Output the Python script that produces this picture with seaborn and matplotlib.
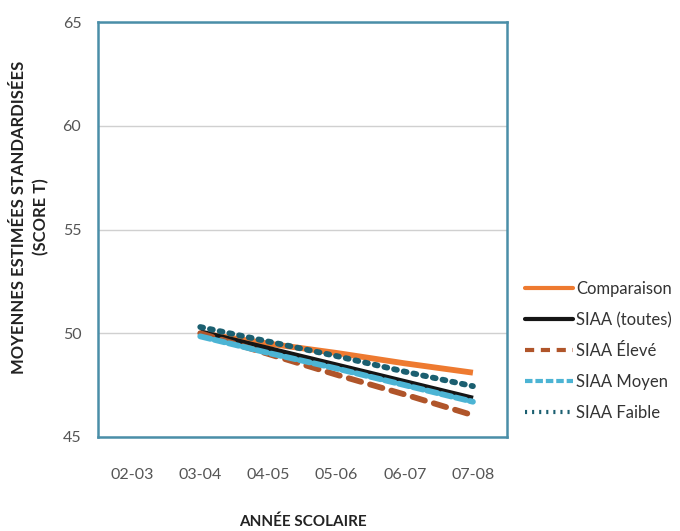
import numpy as np
import pandas as pd
import seaborn as sns
import matplotlib.pyplot as plt
from matplotlib.lines import Line2D

years = ["02-03", "03-04", "04-05", "05-06", "06-07", "07-08"]
comparaison = [np.nan, 50.0, 49.5, 49.05, 48.55, 48.1]
siaa_toutes = [np.nan, 50.05, 49.25, 48.45, 47.65, 46.85]
siaa_eleve = [np.nan, 50.0, 49.0, 48.0, 47.05, 46.05]
siaa_moyen = [np.nan, 49.85, 49.05, 48.3, 47.5, 46.7]
siaa_faible = [np.nan, 50.3, 49.6, 48.9, 48.15, 47.45]

series = ["Comparaison", "SIAA (toutes)", "SIAA Élevé", "SIAA Moyen", "SIAA Faible"]
colors = ["#EE7A30", "#151515", "#B0552A", "#4CB4D4", "#1B5F70"]
styles = ["-", "-", (0, (2.2, 1.6)), (0, (1.8, 0.7)), (0, (0.5, 1.2))]

df = pd.DataFrame({"annee": years, "Comparaison": comparaison, "SIAA (toutes)": siaa_toutes,
                   "SIAA Élevé": siaa_eleve, "SIAA Moyen": siaa_moyen, "SIAA Faible": siaa_faible})
long = df.melt(id_vars="annee", var_name="serie", value_name="score").dropna()
long["x"] = long["annee"].map({y: i for i, y in enumerate(years)})

sns.set_theme(style="white")
plt.rcParams['font.family'] = ['Lato', 'DejaVu Sans']

fig = plt.figure(figsize=(6.8, 5.31), dpi=100)
ax = fig.add_axes([98/680, 1-437/531, 409/680, 415/531])

for s, c, ls in zip(series, colors, styles):
    sub = long[long["serie"] == s]
    sns.lineplot(data=sub, x="x", y="score", color=c, linestyle=ls, lw=4.2,
                 dash_capstyle="round", solid_capstyle="butt", ax=ax, legend=False)

ax.set_xlim(-0.5, 5.5)
ax.set_ylim(45, 65)
ax.set_xticks(range(len(years)))
ax.set_xticklabels(years)
ax.set_yticks([45, 50, 55, 60, 65])
ax.yaxis.grid(True, color="#d0d0d0", lw=1)
ax.tick_params(axis="x", direction="in", length=8, color="#cccccc", pad=22, labelsize=11.5, labelcolor="#555555")
ax.tick_params(axis="y", length=0, pad=12, labelsize=11.5, labelcolor="#555555")
for sp in ax.spines.values():
    sp.set_color("#4A8EA8")
    sp.set_linewidth(1.8)

ax.set_xlabel("ANNÉE SCOLAIRE", fontsize=11, fontweight="bold", color="#222222", labelpad=24)
ax.set_ylabel("MOYENNES ESTIMÉES STANDARDISÉES\n(SCORE T)", fontsize=12, fontweight="bold",
              color="#222222", linespacing=1.45)
ax.yaxis.set_label_coords(-0.12, 0.53)

handles = [Line2D([0], [0], color=c, linestyle=ls, lw=3) for c, ls in zip(colors, styles)]
fig.legend(handles, series, loc="center left", bbox_to_anchor=(525/680, 1-351/531), frameon=False,
           handlelength=2.9, handletextpad=0.15, labelspacing=0.9, fontsize=12, labelcolor="#333333",
           borderaxespad=0, borderpad=0)

fig.savefig("out.png", dpi=100)
